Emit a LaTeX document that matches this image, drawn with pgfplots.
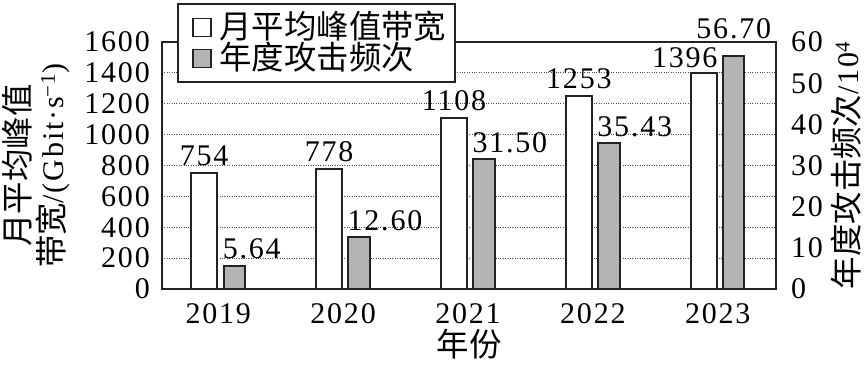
\documentclass[border=0pt]{standalone}
\usepackage{pgfplots}
\usepackage{pgfplotstable}
\pgfplotsset{compat=1.18}
\usepackage{fontspec}
\setmainfont{Liberation Serif}[LetterSpace=6]
\newfontfamily\cjk{Noto Sans CJK SC}[Scale=1.08]
\definecolor{framec}{RGB}{34,34,34}
\definecolor{barg}{RGB}{180,180,180}
\pgfplotstableread{
x bw
0 754
1 778
2 1108
3 1253
4 1396
}\bwtable
\pgfplotstableread{
x atk
0 5.64
1 12.60
2 31.50
3 35.43
4 56.70
}\atktable
\begin{document}
\fontsize{30}{34}\selectfont
\begin{tikzpicture}
\begin{axis}[
  at={(0,0)}, anchor=south west,
  scale only axis, width=614pt, height=247pt,
  xmin=-0.45, xmax=4.466, ymin=0, ymax=1600,
  clip=false,
  xtick={0,1,2,3,4}, xticklabels={2019,2020,2021,2022,2023},
  ytick={0,200,...,1600},
  xtick pos=bottom, ytick pos=left,
  major tick length=0pt,
  ymajorgrids,
  grid style={dotted, draw=black!70, line width=0.9pt},
  axis line style={line width=2pt, draw=framec},
  /pgf/number format/assume math mode=true,
  /pgf/number format/1000 sep={},
  ticklabel style={font=\rmfamily},
  yticklabel style={inner sep=0pt, xshift=-12pt},
  xticklabel style={inner sep=0pt, yshift=-14pt},
  xlabel={\cjk 年份},
  xlabel style={inner sep=0pt, yshift=-6pt},
  ylabel={{\cjk 月平均峰值}\\{\cjk 带宽}/(Gbit·s\textsuperscript{−1})},
  ylabel style={align=center, inner sep=0pt, yshift=14pt},
]
\addplot[ybar, bar width=0.205, bar shift=-0.112, fill=white, draw=framec, line width=2pt] table[x=x,y=bw]{\bwtable};
\node[anchor=base, inner sep=0pt, yshift=7pt] at (axis cs:-0.112,754) {754};
\node[anchor=base, inner sep=0pt, yshift=7pt] at (axis cs:0.888,778) {778};
\node[anchor=base, inner sep=0pt, yshift=7pt] at (axis cs:1.888,1108) {1108};
\node[anchor=base, inner sep=0pt, yshift=7pt] at (axis cs:2.888,1253) {1253};
\node[anchor=base east, inner sep=0pt, yshift=6pt, xshift=1pt] at (axis cs:3.9905,1396) {1396};
\end{axis}
\begin{axis}[
  at={(0,0)}, anchor=south west,
  scale only axis, width=614pt, height=247pt,
  xmin=-0.45, xmax=4.466, ymin=0, ymax=60,
  clip=false,
  axis x line=none, axis y line*=right,
  ytick={0,10,...,60},
  major tick length=0pt,
  axis line style={line width=2pt, draw=framec},
  /pgf/number format/assume math mode=true,
  ticklabel style={font=\rmfamily},
  yticklabel style={inner sep=0pt, xshift=15pt},
  ylabel={{\cjk 年度攻击频次}/10\textsuperscript{4}},
  ylabel style={inner sep=0pt, yshift=-8pt},
  legend cell align=left,
  legend style={at={(0.024,1.158)}, anchor=north west, draw=framec, line width=2pt, fill=white,
    font=\cjk, inner xsep=9pt, inner ysep=9.5pt, row sep=3pt,
    nodes={inner sep=0pt, text height=25pt, text depth=3pt},
    /tikz/every odd column/.append style={column sep=8pt}},
]
\addlegendimage{legend image code/.code={\fill[white, opacity=0] (0pt,-9pt) rectangle (1pt,9pt); \draw[line width=1.6pt, draw=framec, fill=white] (5pt,-9pt) rectangle (23pt,9pt);}}
\addlegendentry{月平均峰值带宽}
\addlegendimage{legend image code/.code={\fill[white, opacity=0] (0pt,-9pt) rectangle (1pt,9pt); \draw[line width=1.6pt, draw=framec, fill=barg] (5pt,-9pt) rectangle (23pt,9pt);}}
\addlegendentry{年度攻击频次}
\addplot[ybar, bar width=0.17, bar shift=0.128, fill=barg, draw=framec, line width=2pt, forget plot] table[x=x,y=atk]{\atktable};
\node[anchor=base west, inner sep=0pt, yshift=7pt, xshift=-1pt] at (axis cs:0.043,5.64) {5.64};
\node[anchor=base west, inner sep=0pt, yshift=7pt, xshift=-1pt] at (axis cs:1.043,12.60) {12.60};
\node[anchor=base west, inner sep=0pt, yshift=7pt, xshift=-1pt] at (axis cs:2.043,31.50) {31.50};
\node[anchor=base west, inner sep=0pt, yshift=7pt, xshift=-1pt] at (axis cs:3.043,35.43) {35.43};
\node[anchor=base, inner sep=0pt, yshift=17pt] at (axis cs:4.128,56.70) {56.70};
\end{axis}
\pgfresetboundingbox
\path[use as bounding box] (-162pt,-78pt) rectangle (705pt,289pt);
\end{tikzpicture}
\end{document}
